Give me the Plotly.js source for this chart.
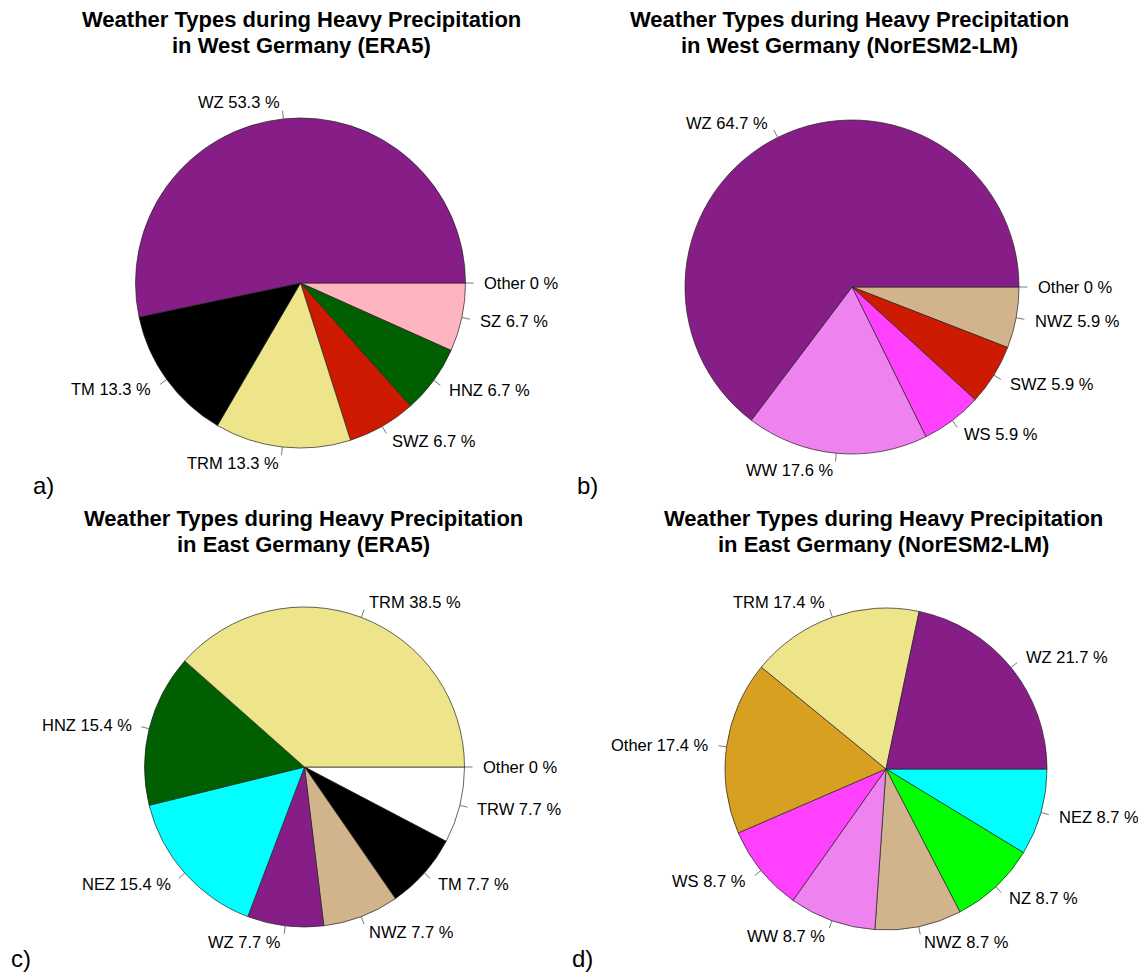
<!DOCTYPE html>
<html>
<head>
<meta charset="utf-8">
<script src="https://cdn.plot.ly/plotly-3.0.1.min.js"></script>
<style>html,body{margin:0;padding:0;background:#fff;}#chart{width:1138px;height:974px;}</style>
</head>
<body>
<div id="chart"></div>
<script>
// ---- data (slice order as drawn: counter-clockwise from 3 o'clock) ----
const catsA = ['WZ','TM','TRM','SWZ','HNZ','SZ','Other'];
const valsA = [53.3,13.3,13.3,6.7,6.7,6.7,0];
const catsB = ['WZ','WW','WS','SWZ','NWZ','Other'];
const valsB = [64.7,17.6,5.9,5.9,5.9,0];
const catsC = ['TRM','HNZ','NEZ','WZ','NWZ','TM','TRW','Other'];
const valsC = [38.5,15.4,15.4,7.7,7.7,7.7,7.7,0];
const catsD = ['WZ','TRM','Other','WS','WW','NWZ','NZ','NEZ'];
const valsD = [21.7,17.4,17.4,8.7,8.7,8.7,8.7,8.7];
const titleLine1 = 'Weather Types during Heavy Precipitation';
const titleLine2 = ['in West Germany (ERA5)','in West Germany (NorESM2-LM)','in East Germany (ERA5)','in East Germany (NorESM2-LM)'];
const panelLetters = ['a)','b)','c)','d)'];

// ---- styles ----
const colorMap = {
  WZ:'#871D87', TM:'#000000', TRM:'#EEE58B', SWZ:'#CD1A00', HNZ:'#005F00',
  SZ:'#FFB5C0', WW:'#EE82EE', WS:'#FF40FF', NWZ:'#D2B48C', NEZ:'#00FFFF',
  NZ:'#00FF00', Other:'#D8A020', TRW:'#FFFFFF'
};
const W = 1138, H = 974;
const geom = [
  {cx:300.5, cy:283, r:165, tx:302, ty:20, lx:43, ly:485},
  {cx:852, cy:287, r:167, tx:849, ty:20, lx:587, ly:485},
  {cx:304.5, cy:767, r:160, tx:303, ty:518, lx:21, ly:958},
  {cx:886, cy:769, r:161, tx:883, ty:518, lx:582, ly:958}
];
const FONT = 'Liberation Sans, Arial, sans-serif';
const panels = [[catsA,valsA],[catsB,valsB],[catsC,valsC],[catsD,valsD]];

const px = v => v / W;
const py = v => 1 - v / H;

const traces = [], annotations = [], shapes = [];
panels.forEach(([cats, vals], k) => {
  const g = geom[k];
  const rc = cats.slice().reverse();
  const rv = vals.slice().reverse();
  traces.push({
    type:'pie', labels: rc, values: rv, sort:false, direction:'clockwise', rotation:90,
    textinfo:'none', hoverinfo:'label+value', showlegend:false,
    marker:{colors: rc.map(c => colorMap[c]), line:{color:'#222', width:0.7}},
    domain:{x:[px(g.cx - g.r), px(g.cx + g.r)], y:[py(g.cy + g.r), py(g.cy - g.r)]}
  });
  const total = vals.reduce((a,b)=>a+b,0);
  let cum = 0;
  vals.forEach((v, i) => {
    const mid = (cum + v/2) / total * 2 * Math.PI;
    cum += v;
    const c = Math.cos(mid), s = Math.sin(mid);
    annotations.push({
      xref:'paper', yref:'paper', x: px(g.cx + 1.1*g.r*c), y: py(g.cy - 1.1*g.r*s),
      xanchor: c < 0 ? 'right' : 'left', yanchor:'middle', showarrow:false,
      text: cats[i] + ' ' + v + ' %', font:{family:FONT, size:16.5, color:'#000'}
    });
    shapes.push({
      type:'line', xref:'paper', yref:'paper',
      x0: px(g.cx + g.r*c), y0: py(g.cy - g.r*s),
      x1: px(g.cx + 1.05*g.r*c), y1: py(g.cy - 1.05*g.r*s),
      line:{color:'#555', width:0.8}
    });
  });
  annotations.push({xref:'paper', yref:'paper', x:px(g.tx), y:py(g.ty), xanchor:'center', yanchor:'middle',
    showarrow:false, text:'<b>'+titleLine1+'</b>', font:{family:FONT, size:22, color:'#000'}});
  annotations.push({xref:'paper', yref:'paper', x:px(g.tx), y:py(g.ty+26), xanchor:'center', yanchor:'middle',
    showarrow:false, text:'<b>'+titleLine2[k]+'</b>', font:{family:FONT, size:22, color:'#000'}});
  annotations.push({xref:'paper', yref:'paper', x:px(g.lx), y:py(g.ly), xanchor:'center', yanchor:'middle',
    showarrow:false, text:panelLetters[k], font:{family:FONT, size:24, color:'#000'}});
});

Plotly.newPlot('chart', traces, {
  width:W, height:H, margin:{l:0,r:0,t:0,b:0}, paper_bgcolor:'#fff', plot_bgcolor:'#fff',
  showlegend:false, annotations, shapes
}, {displayModeBar:false, staticPlot:true});
</script>
</body>
</html>
